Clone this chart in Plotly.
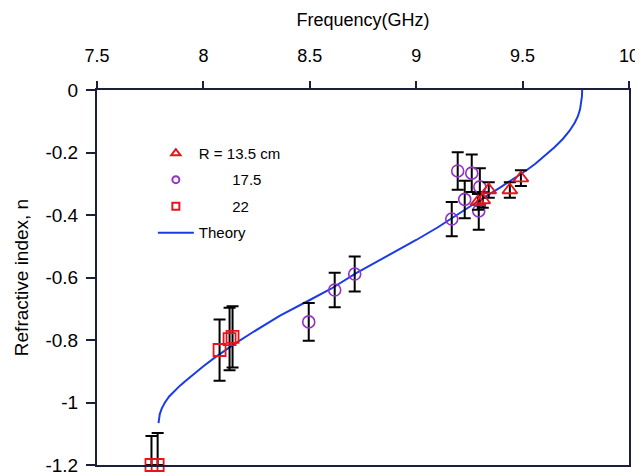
import plotly.graph_objects as go

# ---------------- data ----------------
theory_freq = [7.789, 7.795, 7.805, 7.82, 7.84, 7.865, 7.89, 7.92, 7.96, 8.0, 8.05,
               8.1, 8.15, 8.23, 8.36, 8.5, 8.6, 8.72, 8.85, 8.92, 9.0, 9.1, 9.2,
               9.3, 9.39, 9.45, 9.52, 9.56, 9.6, 9.65, 9.69, 9.72, 9.745, 9.76,
               9.77, 9.776, 9.779, 9.78]
theory_n = [-1.066, -1.037, -1.018, -0.999, -0.98, -0.962, -0.946, -0.929, -0.906, -0.884, -0.858,
            -0.834, -0.811, -0.776, -0.722, -0.672, -0.636, -0.585, -0.537, -0.51, -0.48, -0.44, -0.395,
            -0.352, -0.314, -0.288, -0.256, -0.236, -0.213, -0.183, -0.156, -0.131, -0.105, -0.084,
            -0.062, -0.041, -0.02, 0.0]

r135_freq = [9.29, 9.313, 9.341, 9.44, 9.492]
r135_n = [-0.358, -0.352, -0.32, -0.32, -0.282]
r135_err = [0.025, 0.025, 0.025, 0.025, 0.025]

r175_freq = [8.495, 8.617, 8.711, 9.167, 9.195, 9.228, 9.261, 9.294, 9.299]
r175_n = [-0.742, -0.64, -0.589, -0.413, -0.259, -0.35, -0.266, -0.387, -0.31]
r175_err = [0.06, 0.055, 0.056, 0.055, 0.06, 0.06, 0.06, 0.06, 0.06]

r22_freq = [7.756, 7.785, 8.076, 8.123, 8.137]
r22_n = [-1.2, -1.2, -0.832, -0.797, -0.79]
r22_err_up = [0.093, 0.102, 0.098, 0.1, 0.098]
r22_err_down = [0.0, 0.0, 0.098, 0.1, 0.098]

x_ticks = [7.5, 8, 8.5, 9, 9.5, 10]
x_ticklabels = ["7.5", "8", "8.5", "9", "9.5", "10"]
y_ticks = [0, -0.2, -0.4, -0.6, -0.8, -1, -1.2]
y_ticklabels = ["0", "-0.2", "-0.4", "-0.6", "-0.8", "-1", "-1.2"]

NB = "\u00a0"
legend_names = ["R = 13.5 cm", NB * 8 + "17.5", NB * 8 + "22", "Theory"]

# ---------------- styles ----------------
RED = "#e8141c"
PURPLE = "#9430c8"
BLUE = "#1a3ce8"
AXIS = "#1b1f3a"
FONT = "Liberation Sans, Arial, sans-serif"

fig = go.Figure()

fig.add_trace(go.Scatter(
    x=theory_freq, y=theory_n, mode="lines",
    line=dict(color=BLUE, width=2),
    showlegend=False, cliponaxis=False))

err_style = dict(type="data", color="black", thickness=2, width=6, visible=True)

fig.add_trace(go.Scatter(
    x=r175_freq, y=r175_n, mode="markers",
    marker=dict(symbol="circle-open", size=12, color=PURPLE, line=dict(width=1.6)),
    error_y=dict(array=r175_err, **err_style), showlegend=False, cliponaxis=False))

fig.add_trace(go.Scatter(
    x=r22_freq, y=r22_n, mode="markers",
    marker=dict(symbol="square-open", size=12, color=RED, line=dict(width=1.8)),
    error_y=dict(array=r22_err_up, arrayminus=r22_err_down, symmetric=False, **err_style),
    showlegend=False, cliponaxis=False))

fig.add_trace(go.Scatter(
    x=r135_freq, y=r135_n, mode="markers",
    marker=dict(symbol="triangle-up-open", size=13, color=RED, line=dict(width=1.8)),
    error_y=dict(array=r135_err, **err_style), showlegend=False, cliponaxis=False))

# legend entries
fig.add_trace(go.Scatter(x=[None], y=[None], mode="markers", name=legend_names[0],
                         legendgroup="a",
                         marker=dict(symbol="triangle-up-open", size=8, color=RED, line=dict(width=2))))
fig.add_trace(go.Scatter(x=[None], y=[None], mode="markers", name=legend_names[1],
                         legendgroup="b",
                         marker=dict(symbol="circle-open", size=7, color=PURPLE, line=dict(width=2))))
fig.add_trace(go.Scatter(x=[None], y=[None], mode="markers", name=legend_names[2],
                         legendgroup="c",
                         marker=dict(symbol="square-open", size=7, color=RED, line=dict(width=2))))
fig.add_trace(go.Scatter(x=[None], y=[None], mode="lines", name=legend_names[3],
                         legendgroup="d", line=dict(color=BLUE, width=2)))

# page body has an 8px margin, so the figure is offset by 8px
fig.update_layout(
    width=635, height=468,
    margin=dict(l=89, r=14, t=82, b=11, autoexpand=False),
    paper_bgcolor="white", plot_bgcolor="white",
    font=dict(family=FONT, color="black"),
    showlegend=True,
    legend=dict(x=0.105, y=0.875, xanchor="left", yanchor="top",
                bgcolor="rgba(0,0,0,0)", font=dict(size=15, family=FONT),
                traceorder="grouped", tracegroupgap=4, itemwidth=36),
    xaxis=dict(
        side="top", range=[7.5, 10], tickvals=x_ticks, ticktext=x_ticklabels,
        showgrid=False, zeroline=False, showline=True, mirror=True, automargin=True,
        linecolor=AXIS, linewidth=2, ticks="outside", ticklen=7, tickwidth=1.5,
        tickcolor=AXIS, tickfont=dict(size=18), ticklabelstandoff=12,
        title=dict(text="Frequency(GHz)", font=dict(size=18), standoff=14)),
    yaxis=dict(
        range=[-1.2, 0], tickvals=y_ticks, ticktext=y_ticklabels,
        showgrid=False, zeroline=False, showline=True, mirror=True, automargin=True,
        linecolor=AXIS, linewidth=2, ticks="outside", ticklen=9, tickwidth=1.5,
        tickcolor=AXIS, tickfont=dict(size=19), ticklabelstandoff=4,
        title=dict(text="Refractive index, n", font=dict(size=19), standoff=12)),
)

fig.write_html("out.html")
